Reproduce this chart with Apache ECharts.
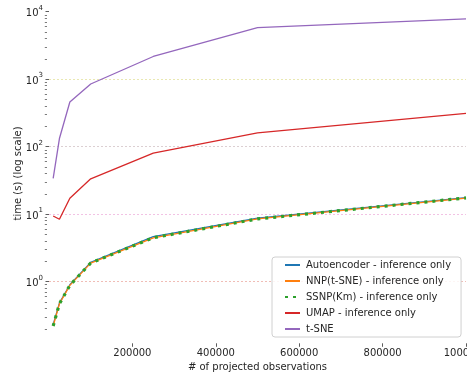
<!DOCTYPE html>
<html>
<head>
<meta charset="utf-8">
<script src="https://cdn.jsdelivr.net/npm/echarts@6/dist/echarts.min.js"></script>
<style>
    html, body { margin: 0; padding: 0; background: #fff; }
    #chart { width: 467px; height: 378px; }
</style>
</head>
<body>
<div id="chart"></div>
<script>
// number of projected observations
const observations = [10000, 25000, 50000, 100000, 250000, 500000, 1000000];

// time in seconds per method
const autoencoder = [0.23, 0.48, 0.90, 1.93, 4.65, 8.7, 17.6];
const nnpTsne = [0.22, 0.47, 0.88, 1.88, 4.45, 8.5, 17.3];
const ssnpKm = [0.22, 0.47, 0.88, 1.89, 4.48, 8.5, 17.4];
const umap = [9.4, 8.4, 17.2, 33.4, 80, 160, 312];
const tsne = [34, 132, 459, 849, 2170, 5800, 7800];

const seriesNames = [
    'Autoencoder - inference only',
    'NNP(t-SNE) - inference only',
    'SSNP(Km) - inference only',
    'UMAP - inference only',
    't-SNE'
];

const xTicks = [200000, 400000, 600000, 800000, 1000000];
const yMajorTicks = [1, 10, 100, 1000, 10000];
const yMinorTicks = [];
[0.1, 1, 10, 100, 1000].forEach(d => {
    for (let k = 2; k <= 9; k++) yMinorTicks.push(+(d * k).toPrecision(3));
});

const font = 'DejaVu Sans';
const textColor = '#262626';

const toPairs = (vals) => observations.map((x, i) => [x, vals[i]]);

const lineSeries = (name, vals, color, extra) => Object.assign({
    name: name,
    type: 'line',
    data: toPairs(vals),
    symbol: 'none',
    animation: false,
    lineStyle: { color: color, width: 1.3 },
    itemStyle: { color: color }
}, extra || {});

const myChart = echarts.init(document.getElementById('chart'));

const option = {
    backgroundColor: '#fff',
    animation: false,
    grid: {
        left: 49,
        right: 1,
        top: 3.6,
        bottom: 34.7,
        containLabel: false,
        outerBoundsMode: 'none'
    },
    legend: {
        orient: 'vertical',
        left: 272,
        top: 257,
        padding: [3, 10, 3, 12],
        itemGap: 6,
        itemWidth: 15,
        itemHeight: 10,
        backgroundColor: 'rgba(255,255,255,0.85)',
        borderColor: '#d0d0d0',
        borderWidth: 1,
        borderRadius: 3,
        itemStyle: { opacity: 0 },
        textStyle: { fontFamily: font, fontSize: 10, color: textColor, padding: [0, 0, 0, 1] },
        data: seriesNames
    },
    xAxis: {
        type: 'value',
        min: 0,
        max: 1000000,
        interval: 200000,
        name: '# of projected observations',
        nameLocation: 'middle',
        nameGap: 19,
        nameMoveOverlap: false,
        nameTextStyle: { fontFamily: font, fontSize: 10, color: textColor },
        axisLine: { show: false },
        axisTick: { show: true, length: 3.5, customValues: xTicks, lineStyle: { color: '#333', width: 0.8 } },
        axisLabel: {
            fontFamily: font, fontSize: 10, color: textColor, margin: 5,
            customValues: xTicks,
            formatter: (v) => String(v)
        },
        splitLine: { show: false }
    },
    yAxis: [
        {
            type: 'log',
            logBase: 10,
            min: 0.122,
            max: 13180,
            offset: 2,
            position: 'left',
            name: 'time (s) (log scale)',
            nameLocation: 'middle',
            nameGap: 24,
            nameMoveOverlap: false,
            nameTextStyle: { fontFamily: font, fontSize: 10, color: textColor },
            axisLine: { show: false },
            axisTick: { show: true, length: 3.5, customValues: yMajorTicks, lineStyle: { color: '#333', width: 0.8 } },
            axisLabel: {
                customValues: yMajorTicks,
                margin: 4,
                formatter: (v) => '{b|10}{s|' + Math.round(Math.log10(v)) + '}',
                rich: {
                    b: { fontFamily: font, fontSize: 10, color: textColor, verticalAlign: 'bottom', lineHeight: 14 },
                    s: { fontFamily: font, fontSize: 7, color: textColor, verticalAlign: 'top', lineHeight: 14 }
                }
            },
            splitLine: {
                show: true,
                lineStyle: {
                    color: ['#f0bdb6', '#f2c2e4', '#dccfd2', '#e9e8b2', 'rgba(0,0,0,0)'],
                    type: [2, 2],
                    width: 1
                }
            }
        },
        {
            type: 'log',
            logBase: 10,
            min: 0.122,
            max: 13180,
            offset: 2,
            position: 'left',
            axisLine: { show: false },
            axisTick: { show: true, length: 2.2, customValues: yMinorTicks, lineStyle: { color: '#444', width: 0.7 } },
            axisLabel: { show: false },
            splitLine: { show: false }
        }
    ],
    series: [
        lineSeries(seriesNames[0], autoencoder, '#1f77b4', { z: 2 }),
        lineSeries(seriesNames[1], nnpTsne, '#ff7f0e', { z: 3 }),
        lineSeries(seriesNames[2], ssnpKm, '#2ca02c', {
            z: 4,
            lineStyle: { color: '#2ca02c', width: 3.2, type: [3, 5], cap: 'butt' }
        }),
        lineSeries(seriesNames[3], umap, '#d62728', { z: 5 }),
        lineSeries(seriesNames[4], tsne, '#9467bd', { z: 6 })
    ]
};

myChart.setOption(option);
</script>
</body>
</html>
